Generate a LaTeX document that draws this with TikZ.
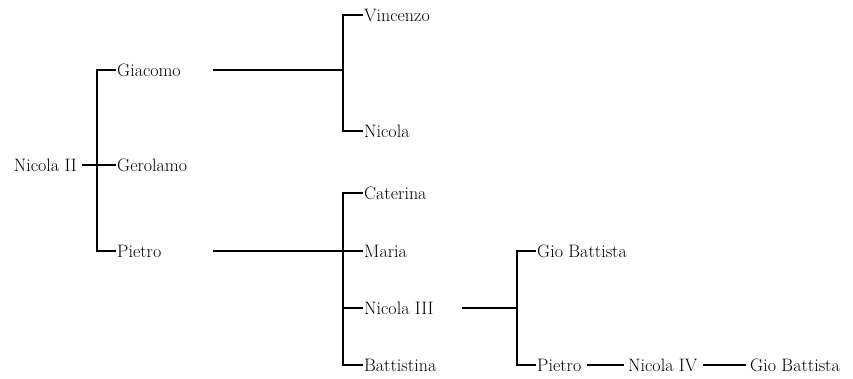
\documentclass[tikz,border=0pt]{standalone}
\begin{document}
\begin{tikzpicture}[x=1pt,y=-1pt,
  person/.style={anchor=west,inner xsep=1pt,inner ysep=0pt,text height=13pt,text depth=0pt,font=\fontsize{18}{20}\selectfont},
  personl/.style={anchor=east,inner xsep=1pt,inner ysep=0pt,text height=13pt,text depth=0pt,font=\fontsize{18}{20}\selectfont},
  link/.style={line width=1.2pt,line join=miter},
  chainlink/.style={link,shorten <=4pt,shorten >=3pt}]
\useasboundingbox (0,0) rectangle (853,378);
% generation 1
\node[personl] (nic2) at (78,165) {Nicola II};
% generation 2
\node[person] (giacomo) at (116,70) {Giacomo};
\node[person] (gerolamo) at (116,165) {Gerolamo};
\node[person] (pietro) at (116,251) {Pietro};
% generation 3
\node[person] (vincenzo) at (363,15) {Vincenzo};
\node[person] (nicola) at (363,131) {Nicola};
\node[person] (caterina) at (363,193) {Caterina};
\node[person] (maria) at (363,251) {Maria};
\node[person] (nicola3) at (363,308) {Nicola III};
\node[person] (battistina) at (363,365) {Battistina};
% generation 4
\node[person] (gio1) at (536,251) {Gio Battista};
\node[person] (pietro2) at (536,365) {Pietro};
\node[person] (nicola4) at (627,365) {Nicola IV};
\node[person] (gio2) at (749,365) {Gio Battista};
% bracket coordinates
\coordinate (aT) at (97,70);
\coordinate (aB) at (97,251);
\coordinate (bT) at (343,15);
\coordinate (bB) at (343,131);
\coordinate (bM) at (343,70);
\coordinate (gl) at (213,70);
\coordinate (cT) at (343,193);
\coordinate (cB) at (343,365);
\coordinate (cN) at (343,308);
\coordinate (pl) at (213,251);
\coordinate (dT) at (517,251);
\coordinate (dB) at (517,365);
\coordinate (dM) at (517,308);
\coordinate (n3l) at (462,308);
% connectors
\draw[link] (giacomo.west) -- (aT) -- (aB) -- (pietro.west);
\draw[link,shorten <=4pt] (nic2.east) -- (gerolamo.west);
\draw[link] (vincenzo.west) -- (bT) -- (bB) -- (nicola.west);
\draw[link] (gl) -- (bM);
\draw[link] (caterina.west) -- (cT) -- (cB) -- (battistina.west);
\draw[link] (pl) -- (maria.west);
\draw[link] (cN) -- (nicola3.west);
\draw[link] (gio1.west) -- (dT) -- (dB) -- (pietro2.west);
\draw[link] (n3l) -- (dM);
\draw[chainlink] (pietro2.east) -- (nicola4.west);
\draw[chainlink] (nicola4.east) -- (gio2.west);
\end{tikzpicture}
\end{document}
